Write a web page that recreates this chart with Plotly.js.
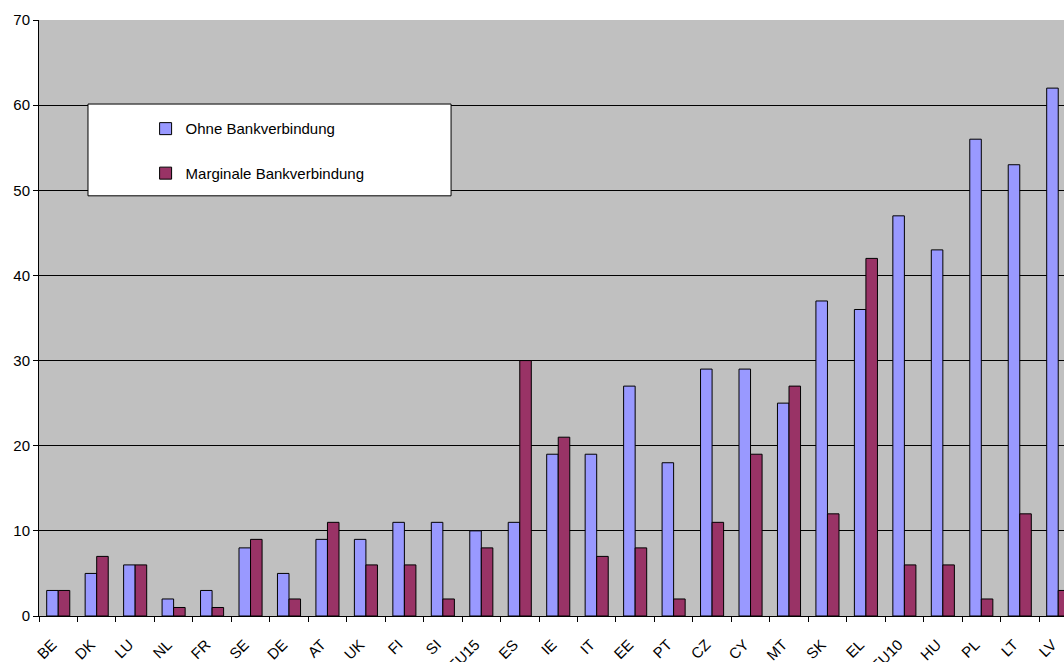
<!DOCTYPE html>
<html>
<head>
<meta charset="utf-8">
<script src="https://cdn.plot.ly/plotly-3.0.1.min.js"></script>
<style>html,body{margin:0;padding:0;background:#fff;}#chart{width:1064px;height:662px;}</style>
</head>
<body>
<div id="chart"></div>
<script>
const categories = ["BE","DK","LU","NL","FR","SE","DE","AT","UK","FI","SI","EU15","ES","IE","IT","EE","PT","CZ","CY","MT","SK","EL","EU10","HU","PL","LT","LV"];
const ohneBank = [3,5,6,2,3,8,5,9,9,11,11,10,11,19,19,27,18,29,29,25,37,36,47,43,56,53,62];
const marginaleBank = [3,7,6,1,1,9,2,11,6,6,2,8,30,21,7,8,2,11,19,27,12,42,6,6,2,12,3];
const seriesNames = ["Ohne Bankverbindung","Marginale Bankverbindung"];
const yTicks = [0,10,20,30,40,50,60,70];

const font = {family: "Liberation Sans, Arial, sans-serif", size: 15, color: "#000"};
const xRange = [-0.5, 26.15];

const traces = [
  {type: "bar", x: categories, y: ohneBank, name: seriesNames[0], legendgroup: "a",
   marker: {color: "#9999FF", line: {color: "#000", width: 1}}, hoverinfo: "x+y"},
  {type: "bar", x: categories, y: marginaleBank, name: seriesNames[1], legendgroup: "b",
   marker: {color: "#993366", line: {color: "#000", width: 1}}, hoverinfo: "x+y"},
  // invisible helper trace that gives the overlay axis its categories (boundary tick marks)
  {type: "scatter", mode: "markers", x: categories, y: categories.map(() => 0), xaxis: "x2",
   marker: {opacity: 0}, showlegend: false, hoverinfo: "skip"}
];

const layout = {
  width: 1064, height: 662,
  margin: {l: 39, r: 0, t: 20, b: 46, pad: 0},
  paper_bgcolor: "#FFFFFF",
  plot_bgcolor: "#C0C0C0",
  font: font,
  barmode: "group",
  bargap: 0.4,
  bargroupgap: 0,
  showlegend: true,
  legend: {
    x: 0.104, y: 0.845, xanchor: "left", yanchor: "top",
    bgcolor: "rgba(0,0,0,0)", borderwidth: 0,
    tracegroupgap: 22,
    font: font
  },
  shapes: [{
    type: "rect", xref: "paper", yref: "paper",
    x0: 0.0478, x1: 0.402, y0: 0.705, y1: 0.859,
    fillcolor: "#FFFFFF", line: {color: "#000", width: 1}, layer: "above"
  }],
  xaxis: {
    type: "category",
    range: xRange,
    ticks: "", ticklabelstandoff: 13, ticklabelshift: -6,
    tickangle: -45,
    showline: true, linecolor: "#000", linewidth: 1,
    showgrid: false, zeroline: false,
    tickfont: font
  },
  xaxis2: {
    type: "category",
    overlaying: "x", anchor: "y", side: "bottom",
    range: xRange,
    tickson: "boundaries",
    ticks: "outside", ticklen: 5, tickcolor: "#000", tickwidth: 1,
    showticklabels: false,
    showline: false, showgrid: false, zeroline: false
  },
  yaxis: {
    range: [0, 70],
    tickvals: yTicks,
    ticks: "outside", ticklen: 5, tickcolor: "#000", tickwidth: 1,
    showline: true, linecolor: "#000", linewidth: 1,
    showgrid: true, gridcolor: "#000", gridwidth: 1,
    zeroline: false,
    tickfont: font
  }
};

Plotly.newPlot("chart", traces, layout, {displayModeBar: false, staticPlot: true});
</script>
</body>
</html>
